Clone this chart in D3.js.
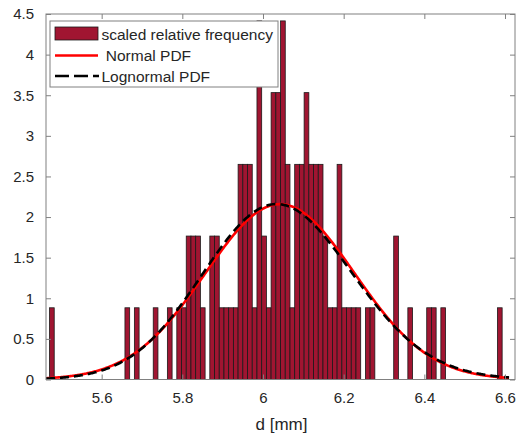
<!DOCTYPE html>
<html>
<head>
<meta charset="utf-8">
<script src="https://cdn.jsdelivr.net/npm/d3@7"></script>
<style>
  body { margin: 0; background: #fff; }
  text { font-family: "Liberation Sans", Arial, sans-serif; fill: #262626; }
</style>
</head>
<body>
<div id="chart"></div>
<script>
(function(){
  'use strict';

  // histogram: counts per bin, bins start at binStart, width binWidth
  var binStart = 5.4707;
  var binWidth = 0.01169;
  var counts = [
    1,0,0,0,0,0,0,0,0,0, 0,0,0,0,0,0,1,0,1,0,
    0,0,1,0,0,1,0,1,1,2, 2,2,1,0,2,2,1,1,1,1,
    3,3,3,1,5,2,1,4,4,5, 3,1,3,3,4,3,3,3,2,1,
    1,3,1,1,1,1,0,1,1,0, 0,0,0,2,0,0,1,0,0,0,
    1,1,0,1,0,0,0,0,0,0, 0,0,0,0,0,1
  ];
  // height of a one-count bar (scaled relative frequency)
  var unitHeight = 0.883;

  // fitted distributions
  var normalMu = 6.042, normalSigma = 0.1848;
  var logSigma = 0.0306, logMu = Math.log(6.042) - logSigma * logSigma / 2;
  var curveEnd = 6.61;

  var xTicks = [5.6, 5.8, 6, 6.2, 6.4, 6.6];
  var yTicks = [0, 0.5, 1, 1.5, 2, 2.5, 3, 3.5, 4, 4.5];
  var legendLabels = ["scaled relative frequency", " Normal PDF", "Lognormal PDF"];

  var width = 523, height = 437;
  var margin = { top: 14, right: 8, bottom: 57.5, left: 46 };
  var innerW = width - margin.left - margin.right;
  var innerH = height - margin.top - margin.bottom;

  var x = d3.scaleLinear().domain([5.462, 6.6248]).range([0, innerW]);
  var y = d3.scaleLinear().domain([0, 4.5]).range([innerH, 0]);

  var svg = d3.select("#chart")
              .append("svg")
              .attr("width", width)
              .attr("height", height);

  var g = svg.append("g")
             .attr("transform", "translate(" + margin.left + "," + margin.top + ")");

  g.append("clipPath").attr("id", "plot-clip")
    .append("rect").attr("width", innerW).attr("height", innerH);

  // bars
  var bins = counts.map(function(c, i){
    return { x0: binStart + i * binWidth, x1: binStart + (i + 1) * binWidth, v: c * unitHeight };
  }).filter(function(b){ return b.v > 0; });

  g.append("g").selectAll("rect")
    .data(bins)
    .enter().append("rect")
    .attr("x", function(d){ return x(d.x0); })
    .attr("width", function(d){ return x(d.x1) - x(d.x0); })
    .attr("y", function(d){ return y(d.v); })
    .attr("height", function(d){ return y(0) - y(d.v); })
    .attr("fill", "#A01531")
    .attr("stroke", "#1a1a1a")
    .attr("stroke-width", 0.8);

  // pdf curves
  function normalPdf(t){
    var z = (t - normalMu) / normalSigma;
    return Math.exp(-0.5 * z * z) / (normalSigma * Math.sqrt(2 * Math.PI));
  }
  function lognormalPdf(t){
    var z = (Math.log(t) - logMu) / logSigma;
    return Math.exp(-0.5 * z * z) / (t * logSigma * Math.sqrt(2 * Math.PI));
  }
  var xs = d3.range(x.domain()[0], curveEnd, 0.002).concat([curveEnd]);

  var line = d3.line()
               .x(function(d){ return x(d[0]); })
               .y(function(d){ return y(d[1]); });

  var curves = g.append("g").attr("clip-path", "url(#plot-clip)");
  curves.append("path")
    .datum(xs.map(function(t){ return [t, normalPdf(t)]; }))
    .attr("d", line)
    .attr("fill", "none")
    .attr("stroke", "#ff0000")
    .attr("stroke-width", 2.6);
  curves.append("path")
    .datum(xs.map(function(t){ return [t, lognormalPdf(t)]; }))
    .attr("d", line)
    .attr("fill", "none")
    .attr("stroke", "#000")
    .attr("stroke-width", 2.6)
    .attr("stroke-dasharray", "9,5");

  // axes, MATLAB style: ticks inside, box on
  var axisColor = "#808080";
  var tickLen = 5;
  var xAxis = d3.axisBottom(x).tickValues(xTicks).tickSizeInner(-tickLen).tickSizeOuter(0).tickPadding(13)
                .tickFormat(function(d){ return String(d); });
  var yAxis = d3.axisLeft(y).tickValues(yTicks).tickSizeInner(-tickLen).tickSizeOuter(0).tickPadding(12)
                .tickFormat(function(d){ return String(d); });

  g.append("g").attr("transform", "translate(0," + innerH + ")").call(xAxis);
  g.append("g").call(yAxis);
  g.append("g").call(d3.axisTop(x).tickValues(xTicks).tickSizeInner(-tickLen).tickSizeOuter(0).tickFormat(""));
  g.append("g").attr("transform", "translate(" + innerW + ",0)")
    .call(d3.axisRight(y).tickValues(yTicks).tickSizeInner(-tickLen).tickSizeOuter(0).tickFormat(""));

  g.selectAll(".domain").remove();
  g.selectAll(".tick line").attr("stroke", axisColor);
  g.selectAll(".tick text").attr("fill", "#262626").style("font-size", "15px")
    .style("font-family", "'Liberation Sans', Arial, sans-serif");

  g.append("rect")
    .attr("width", innerW).attr("height", innerH)
    .attr("fill", "none").attr("stroke", axisColor).attr("stroke-width", 1);

  // x label
  g.append("text")
    .attr("x", innerW / 2 + 1)
    .attr("y", innerH + 50)
    .attr("text-anchor", "middle")
    .style("font-size", "17px")
    .text("d [mm]");

  // legend
  var lg = svg.append("g").attr("transform", "translate(50,21)");
  lg.append("rect")
    .attr("width", 228).attr("height", 66)
    .attr("fill", "#fff").attr("stroke", "#808080").attr("stroke-width", 1);

  lg.append("rect")
    .attr("x", 5).attr("y", 6).attr("width", 43).attr("height", 13)
    .attr("fill", "#A01531").attr("stroke", "#1a1a1a").attr("stroke-width", 0.8);
  lg.append("line")
    .attr("x1", 5).attr("x2", 48).attr("y1", 34.5).attr("y2", 34.5)
    .attr("stroke", "#ff0000").attr("stroke-width", 2.6);
  lg.append("line")
    .attr("x1", 5).attr("x2", 49).attr("y1", 55).attr("y2", 55)
    .attr("stroke", "#000").attr("stroke-width", 2.6)
    .attr("stroke-dasharray", "14,5");

  lg.selectAll("text.lbl")
    .data(legendLabels)
    .enter().append("text")
    .attr("class", "lbl")
    .attr("x", 51.5)
    .attr("y", function(d, i){ return 18.5 + i * 21; })
    .attr("xml:space", "preserve")
    .style("white-space", "pre")
    .style("font-size", "15.5px")
    .text(function(d){ return d; });
})();
</script>
</body>
</html>
